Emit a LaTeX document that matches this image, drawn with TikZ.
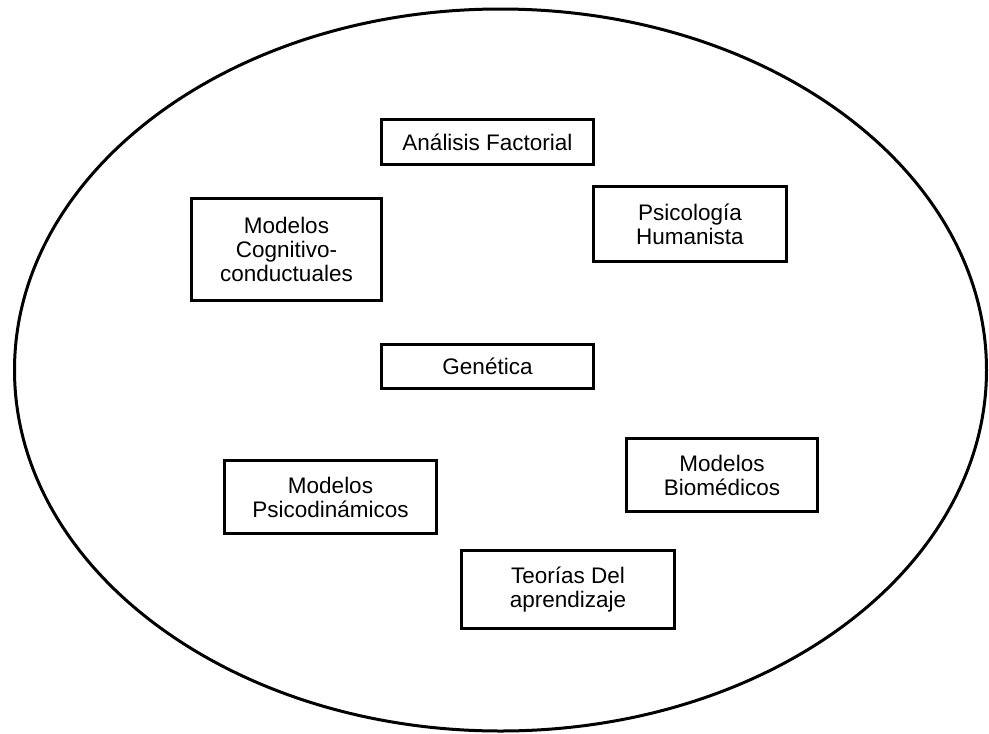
\documentclass[tikz,border=0pt]{standalone}
\usepackage{fontspec}
\setmainfont{Liberation Sans}
\begin{document}
\begin{tikzpicture}[x=1pt,y=-1pt,
  box/.style={draw=black,line width=2.6pt,rectangle,inner sep=0pt,align=center,
    font=\fontsize{22.5}{24}\selectfont},
  ring/.style={draw=black,line width=3pt}]
\useasboundingbox (0,0) rectangle (989,734);
\draw[ring] (500.5,370) ellipse [x radius=486, y radius=361];
\node[box,minimum width=212pt,minimum height=45pt] (af) at (487.5,142) {Análisis Factorial};
\node[box,minimum width=190pt,minimum height=102pt] (cc) at (286.5,249.5) {Modelos\\Cognitivo-\\conductuales};
\node[box,minimum width=193pt,minimum height=75pt] (ph) at (690,224) {Psicología\\Humanista};
\node[box,minimum width=212pt,minimum height=44pt] (ge) at (487.5,366.5) {Genética};
\node[box,minimum width=212pt,minimum height=73pt] (pd) at (330.5,497) {Modelos\\Psicodinámicos};
\node[box,minimum width=191pt,minimum height=73pt] (bm) at (722,475) {Modelos\\Biomédicos};
\node[box,minimum width=213pt,minimum height=78pt] (ta) at (568,589.5) {Teorías Del\\aprendizaje};
\end{tikzpicture}
\end{document}
